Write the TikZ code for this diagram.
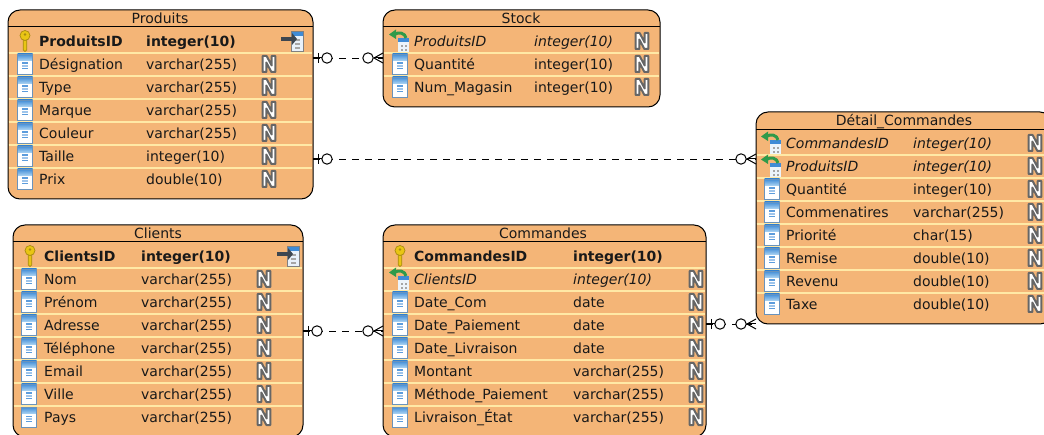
\documentclass[tikz,border=0pt]{standalone}
\usepackage{fontspec}
\setmainfont{DejaVu Sans}
\usetikzlibrary{calc}
\definecolor{tblfill}{HTML}{F4B577}
\definecolor{rowline}{HTML}{FFE9A6}
\definecolor{icoblue}{HTML}{3F8BD6}
\definecolor{icolight}{HTML}{A9D2F2}
\definecolor{icoframe}{HTML}{6A93BC}
\definecolor{keygold}{HTML}{E9C514}
\definecolor{keyedge}{HTML}{A88A12}
\definecolor{fkgreen}{HTML}{2F9A4A}
\definecolor{pkdark}{HTML}{3D4650}
\definecolor{ngray}{HTML}{666666}
\tikzset{
  x=1pt,y=-1pt,
  tbl/.style={draw=black,line width=1pt,fill=tblfill,rounded corners=12pt,anchor=north west,inner sep=0pt,outer sep=0pt},
  tbltitle/.style={font=\fontsize{14}{14}\selectfont,anchor=base,inner sep=0pt,text=black!90},
  cell/.style={font=\fontsize{14}{14}\selectfont,anchor=base west,inner sep=0pt,text=black!90},
  cellb/.style={cell,font=\fontsize{14}{14}\selectfont\bfseries},
  celli/.style={cell,font=\fontsize{14}{14}\selectfont\itshape},
  hline/.style={draw=black,line width=1pt},
  rowsep/.style={draw=rowline,line width=1.2pt},
  conn/.style={draw=black,line width=0.9pt,dash pattern=on 7pt off 6pt},
  mark line/.style={draw=black,line width=1pt},
  mark ring/.style={draw=black,line width=1pt,fill=white},
  colicon/.pic={
    \fill[white] (-7.5,-10) rectangle (7.5,10);
    \shade[top color=icoblue,bottom color=icolight] (-7.5,-10) rectangle (7.5,-3.5);
    \fill[icoblue!85] (-3,-1.5) rectangle (3,0);
    \fill[icoblue!50] (-3,1.3) rectangle (3,2.6);
    \fill[icoblue!85] (-3,3.9) rectangle (3,5.4);
    \draw[icoframe,line width=.9pt] (-7.5,-10) rectangle (7.5,10);
  },
  keyicon/.pic={
    \fill[keygold,draw=keyedge,line width=.7pt] (-1.8,-3) -- (-1.8,9) -- (0,10.5) -- (1.8,9) -- (1.8,-3) -- cycle;
    \fill[keygold,draw=keyedge,line width=.7pt] (0,-5.5) circle[radius=5];
    \fill[keyedge] (0,-6.5) circle[radius=1.4];
  },
  pkicon/.pic={
    \fill[white!88!icoblue] (-1,-10) rectangle (11,10);
    \fill[icoblue] (-1,-10) rectangle (11,-5);
    \fill[gray!70] (3,-2) rectangle (8,0);
    \fill[gray!70] (3,2) rectangle (8,4);
    \fill[gray!70] (3,6) rectangle (8,8);
    \draw[gray,line width=.6pt] (-1,-10) rectangle (11,10);
    \draw[pkdark,line width=3.4pt] (-11,-2) -- (1,-2);
    \fill[pkdark] (0,-8) -- (5,-2) -- (0,4) -- cycle;
  },
  fkicon/.pic={
    \fill[white!90!icoblue] (-2,-1) rectangle (9,11);
    \fill[icoblue] (-2,-3) rectangle (9,1.5);
    \fill[gray!70] (1,4) rectangle (3,6);
    \fill[gray!70] (5,4) rectangle (7,6);
    \fill[gray!70] (1,8) rectangle (3,10);
    \fill[gray!70] (5,8) rectangle (7,10);
    \draw[fkgreen,line width=3pt] (-6,-6.5) .. controls (-1,-9.5) and (5,-8) .. (6,-3);
    \fill[fkgreen] (-11,-6.5) -- (-4,-11.5) -- (-4,-2) -- cycle;
  },
  nicon/.pic={
    \filldraw[draw=ngray,fill=white,line width=2pt,line join=round]
      (-6.3,-8) -- (-2.4,-8) -- (2.7,1.5) -- (2.7,-8) -- (6.3,-8) -- (6.3,8) -- (2.4,8) -- (-2.7,-1.5) -- (-2.7,8) -- (-6.3,8) -- cycle;
  }
}
\newcommand{\ersep}[3]{\draw[rowsep] (#1+.6,#3) -- (#2-.6,#3);}
\newcommand{\errow}[9]{%
  \pic at (#2,#1) {#3};
  \node[#8] at (#4,#1+5.6) {#5};
  \node[#8] at (#6,#1+5.6) {#7};
  \pic at (#9,#1) {nicon};
}
\begin{document}
\begin{tikzpicture}
\useasboundingbox (0,0) rectangle (1044,435);
\fill[white] (0,0) rectangle (1044,435);

% ---------- Produits
\node[tbl,minimum width=305pt,minimum height=189pt] (produits) at (8,10) {};
\node[tbltitle] (produitst) at (160,24) {Produits};
\draw[hline] (8,27) -- (313,27);
\foreach \yy in {53,76,99,122,145,168} {\ersep{8}{313}{\yy}}
\pic at (25,41) {keyicon};
\node[cellb] (p0) at (39,46.6) {ProduitsID};
\node[cellb] (p0t) at (146,46.6) {integer(10)};
\pic at (292,41) {pkicon};
\errow{64}{25}{colicon}{39}{Désignation}{146}{varchar(255)}{cell}{269}
\errow{87}{25}{colicon}{39}{Type}{146}{varchar(255)}{cell}{269}
\errow{110}{25}{colicon}{39}{Marque}{146}{varchar(255)}{cell}{269}
\errow{133}{25}{colicon}{39}{Couleur}{146}{varchar(255)}{cell}{269}
\errow{156}{25}{colicon}{39}{Taille}{146}{integer(10)}{cell}{269}
\errow{179}{25}{colicon}{39}{Prix}{146}{double(10)}{cell}{269}

% ---------- Stock
\node[tbl,minimum width=277pt,minimum height=97pt] (stock) at (383,10) {};
\node[tbltitle] (stockt) at (521,24) {Stock};
\draw[hline] (383,27) -- (660,27);
\foreach \yy in {53,76} {\ersep{383}{660}{\yy}}
\errow{41}{400}{fkicon}{414}{ProduitsID}{534}{integer(10)}{celli}{642}
\errow{64}{400}{colicon}{414}{Quantité}{534}{integer(10)}{cell}{642}
\errow{87}{400}{colicon}{414}{Num\_Magasin}{534}{integer(10)}{cell}{642}

% ---------- Detail_Commandes
\node[tbl,minimum width=296pt,minimum height=212pt] (detail) at (756,112) {};
\node[tbltitle] (detailt) at (904,126) {Détail\_Commandes};
\draw[hline] (756,130) -- (1052,130);
\foreach \yy in {155,178,201,224,247,270,293} {\ersep{756}{1052}{\yy}}
\errow{143}{772}{fkicon}{786}{CommandesID}{913}{integer(10)}{celli}{1035}
\errow{166}{772}{fkicon}{786}{ProduitsID}{913}{integer(10)}{celli}{1035}
\errow{189}{772}{colicon}{786}{Quantité}{913}{integer(10)}{cell}{1035}
\errow{212}{772}{colicon}{786}{Commenatires}{913}{varchar(255)}{cell}{1035}
\errow{235}{772}{colicon}{786}{Priorité}{913}{char(15)}{cell}{1035}
\errow{258}{772}{colicon}{786}{Remise}{913}{double(10)}{cell}{1035}
\errow{281}{772}{colicon}{786}{Revenu}{913}{double(10)}{cell}{1035}
\errow{304}{772}{colicon}{786}{Taxe}{913}{double(10)}{cell}{1035}

% ---------- Clients
\node[tbl,minimum width=290pt,minimum height=212pt] (clients) at (13,225) {};
\node[tbltitle] (clientst) at (158,239) {Clients};
\draw[hline] (13,242) -- (303,242);
\foreach \yy in {268,291,314,337,360,383,406} {\ersep{13}{303}{\yy}}
\pic at (30,256) {keyicon};
\node[cellb] (c0) at (44,261.6) {ClientsID};
\node[cellb] (c0t) at (141,261.6) {integer(10)};
\pic at (288,256) {pkicon};
\errow{279}{29}{colicon}{44}{Nom}{141}{varchar(255)}{cell}{264}
\errow{302}{29}{colicon}{44}{Prénom}{141}{varchar(255)}{cell}{264}
\errow{325}{29}{colicon}{44}{Adresse}{141}{varchar(255)}{cell}{264}
\errow{348}{29}{colicon}{44}{Téléphone}{141}{varchar(255)}{cell}{264}
\errow{371}{29}{colicon}{44}{Email}{141}{varchar(255)}{cell}{264}
\errow{394}{29}{colicon}{44}{Ville}{141}{varchar(255)}{cell}{264}
\errow{417}{29}{colicon}{44}{Pays}{141}{varchar(255)}{cell}{264}

% ---------- Commandes
\node[tbl,minimum width=323pt,minimum height=212pt] (commandes) at (383,225) {};
\node[tbltitle] (commandest) at (543,239) {Commandes};
\draw[hline] (383,242) -- (706,242);
\foreach \yy in {268,291,314,337,360,383,406} {\ersep{383}{706}{\yy}}
\pic at (400,256) {keyicon};
\node[cellb] (m0) at (414,261.6) {CommandesID};
\node[cellb] (m0t) at (573,261.6) {integer(10)};
\errow{279}{400}{fkicon}{414}{ClientsID}{573}{integer(10)}{celli}{696}
\errow{302}{400}{colicon}{414}{Date\_Com}{573}{date}{cell}{696}
\errow{325}{400}{colicon}{414}{Date\_Paiement}{573}{date}{cell}{696}
\errow{348}{400}{colicon}{414}{Date\_Livraison}{573}{date}{cell}{696}
\errow{371}{400}{colicon}{414}{Montant}{573}{varchar(255)}{cell}{696}
\errow{394}{400}{colicon}{414}{Méthode\_Paiement}{573}{varchar(255)}{cell}{696}
\errow{417}{400}{colicon}{414}{Livraison\_État}{573}{varchar(255)}{cell}{696}

% ---------- Connectors
\coordinate (a1) at ([yshift=-48pt]produits.north east);
\coordinate (b1) at ([yshift=-48pt]stock.north west);
\coordinate (a2) at ([yshift=-149pt]produits.north east);
\coordinate (b2) at ([yshift=-47pt]detail.north west);
\coordinate (a3) at ([yshift=-106pt]clients.north east);
\coordinate (b3) at ([yshift=-106pt]commandes.north west);
\coordinate (a4) at ([yshift=-99pt]commandes.north east);
\coordinate (b4) at ([yshift=-212pt]detail.north west);
\foreach \s/\e in {a1/b1,a2/b2,a3/b3,a4/b4} {
  \draw[conn] (\s) -- (\e);
  \draw[mark line] (\s) -- ($(\s)+(9,0)$);
  \draw[mark line] ($(\s)+(5,-5)$) -- ($(\s)+(5,5)$);
  \draw[mark ring] ($(\s)+(14,0)$) circle[radius=5.2];
  \draw[mark line] ($(\e)+(0,-5)$) -- ($(\e)+(-9,0)$) -- ($(\e)+(0,5)$);
  \draw[mark line] ($(\e)+(-9,0)$) -- (\e);
  \draw[mark ring] ($(\e)+(-15,0)$) circle[radius=5.2];
}
\end{tikzpicture}
\end{document}
